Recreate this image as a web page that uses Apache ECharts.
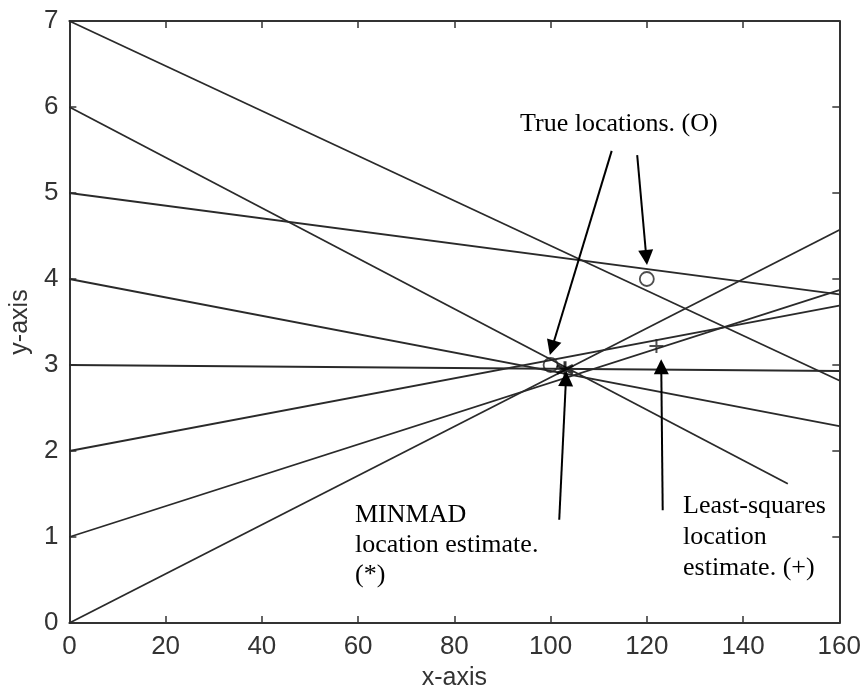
<!DOCTYPE html>
<html>
<head>
<meta charset="UTF-8">
<title>MINMAD location estimate</title>
<style>
html, body { margin: 0; padding: 0; background: #fff; }
#main { width: 864px; height: 696px; }
</style>
</head>
<body>
<div id="main"></div>
<script src="https://cdn.jsdelivr.net/npm/echarts@6/dist/echarts.min.js"></script>
<script>
// bearing lines: start at x=0, end points
var lineStartY = [7, 6, 5, 4, 3, 2, 1, 0];
var lineEndX = [160, 149.3, 160, 160, 160, 160, 160, 160];
var lineEndY = [2.82, 1.62, 3.82, 2.29, 2.93, 3.69, 3.87, 4.57];

var trueLocations = [[100, 3], [120, 4]];
var minmadPoint = [[103, 2.95]];
var lsPoint = [[122, 3.22]];

// annotation arrows: [fromX, fromY, toX, toY]
var arrowFrom = [[112.7, 5.49], [118.0, 5.44], [101.8, 1.2], [123.3, 1.31]];
var arrowTo = [[100.3, 3.2], [119.9, 4.25], [103.2, 2.84], [123.0, 2.98]];

var xTicks = { min: 0, max: 160, interval: 20 };
var yTicks = { min: 0, max: 7, interval: 1 };

var axisColor = '#333';
var serif = "'Liberation Serif', 'Times New Roman', serif";
var sans = "'Liberation Sans', Arial, sans-serif";
var narrow = "'Liberation Sans Narrow', 'Arial Narrow', 'Liberation Sans', sans-serif";

var series = [];
for (var i = 0; i < lineStartY.length; i++) {
	series.push({
		type: 'line',
		data: [[0, lineStartY[i]], [lineEndX[i], lineEndY[i]]],
		showSymbol: false,
		silent: true,
		lineStyle: { color: '#2a2a2a', width: 1.8 }
	});
}

series.push({
	type: 'scatter',
	data: trueLocations,
	symbol: 'circle',
	symbolSize: 14,
	itemStyle: { color: 'rgba(0,0,0,0)', borderColor: '#222', borderWidth: 1.8 },
	z: 5
});
series.push({
	type: 'scatter',
	data: minmadPoint,
	symbol: 'path://M0,-10 L0,10 M-8.66,-5 L8.66,5 M-8.66,5 L8.66,-5',
	symbolSize: 16,
	itemStyle: { color: 'rgba(0,0,0,0)', borderColor: '#000', borderWidth: 3 },
	z: 5
});
series.push({
	type: 'scatter',
	data: lsPoint,
	symbol: 'path://M0,-10 L0,10 M-10,0 L10,0',
	symbolSize: 14,
	itemStyle: { color: 'rgba(0,0,0,0)', borderColor: '#222', borderWidth: 2 },
	z: 5
});

var arrowData = [];
for (var k = 0; k < arrowFrom.length; k++) {
	arrowData.push({ coords: [arrowFrom[k], arrowTo[k]] });
}
series.push({
	type: 'lines',
	coordinateSystem: 'cartesian2d',
	data: arrowData,
	symbol: ['none', 'triangle'],
	symbolSize: [13, 15],
	silent: true,
	lineStyle: { color: '#000', width: 2, opacity: 1 },
	z: 6
});

function makeX(pos, show) {
	return {
		type: 'value', position: pos,
		min: xTicks.min, max: xTicks.max, interval: xTicks.interval,
		name: show ? 'x-axis' : '', nameLocation: 'middle', nameGap: 43,
		nameTextStyle: { fontFamily: sans, fontSize: 25, color: axisColor },
		axisLine: { show: true, onZero: false, lineStyle: { color: axisColor, width: 2 } },
		axisTick: { show: true, inside: true, length: 7, lineStyle: { color: axisColor, width: 1.5 } },
		axisLabel: { show: show, margin: 11, fontFamily: narrow, fontSize: 26, color: axisColor },
		splitLine: { show: false }
	};
}
function makeY(pos, show) {
	return {
		type: 'value', position: pos,
		min: yTicks.min, max: yTicks.max, interval: yTicks.interval,
		name: show ? 'y-axis' : '', nameLocation: 'middle', nameGap: 32,
		nameTextStyle: { fontFamily: sans, fontSize: 25, color: axisColor },
		axisLine: { show: true, onZero: false, lineStyle: { color: axisColor, width: 2 } },
		axisTick: { show: true, inside: true, length: 7, lineStyle: { color: axisColor, width: 1.5 } },
		axisLabel: { show: show, margin: 11, fontFamily: narrow, fontSize: 26, color: axisColor },
		splitLine: { show: false }
	};
}

var myChart = echarts.init(document.getElementById('main'), null, { renderer: 'canvas' });
var option = {
	animation: false,
	backgroundColor: '#fff',
	grid: { left: 68, right: 24, top: 21, bottom: 69 },
	xAxis: [makeX('bottom', true), makeX('top', false)],
	yAxis: [makeY('left', true), makeY('right', false)],
	series: series,
	graphic: [
		{ type: 'text', x: 520, y: 111, z: 10,
			style: { text: 'True locations. (O)', font: '26px ' + serif, fill: '#000' } },
		{ type: 'text', x: 355, y: 500, z: 10,
			style: { text: 'MINMAD\nlocation estimate.\n(*)', font: '26px ' + serif, fill: '#000', lineHeight: 30 } },
		{ type: 'text', x: 683, y: 491, z: 10,
			style: { text: 'Least-squares\nlocation\nestimate. (+)', font: '26px ' + serif, fill: '#000', lineHeight: 31 } }
	]
};
myChart.setOption(option);
</script>
</body>
</html>
